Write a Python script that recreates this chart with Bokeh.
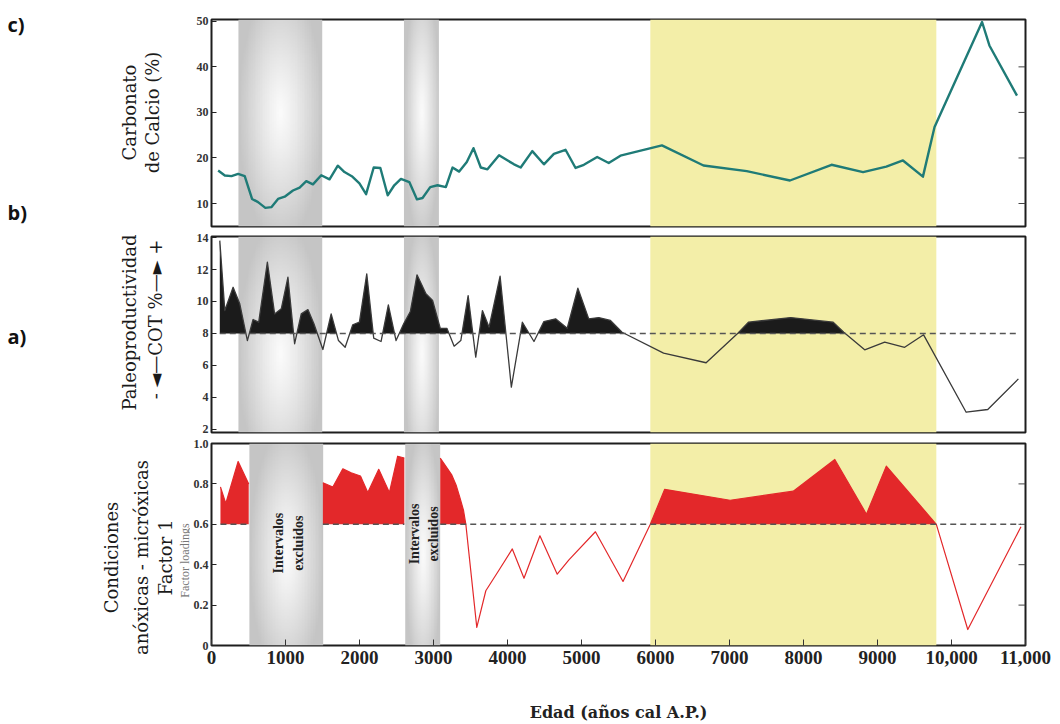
import numpy as np
from bokeh.plotting import figure
from bokeh.layouts import column, row
from bokeh.models import Label, FixedTicker, Range1d
from bokeh.embed import file_html
from bokeh.resources import INLINE
from bokeh.core.properties import value

# ---------------- data ----------------
# c) Carbonato de Calcio (%)
carb_age = [90, 180, 270, 360, 449, 548, 629, 728, 809, 899, 989, 1101, 1191, 1281, 1371,
            1483, 1595, 1707, 1797, 1896, 1999, 2089, 2192, 2282, 2381, 2470, 2560, 2673,
            2777, 2852, 2956, 3055, 3167, 3257, 3347, 3450, 3540, 3639, 3729, 3886, 3975,
            4088, 4178, 4335, 4492, 4627, 4784, 4920, 5032, 5212, 5368, 5526, 6087, 6649,
            7233, 7817, 8379, 8805, 9119, 9344, 9614, 9771, 10413, 10512, 10885]
carb_pct = [17.25, 16.15, 16.0, 16.5, 16.0, 11.0, 10.3, 9.05, 9.2, 11.0, 11.5, 12.85, 13.5,
            14.9, 14.2, 16.2, 15.3, 18.3, 16.9, 16.0, 14.4, 12.05, 17.9, 17.8, 11.8, 14.0,
            15.4, 14.7, 10.9, 11.2, 13.6, 14.0, 13.6, 17.9, 17.0, 19.1, 22.15, 17.9, 17.5,
            20.6, 19.7, 18.6, 17.9, 21.5, 18.6, 20.9, 21.8, 17.8, 18.5, 20.2, 18.9, 20.5,
            22.75, 18.35, 17.1, 15.05, 18.5, 16.9, 18.1, 19.45, 15.9, 26.8, 49.85, 44.7, 33.7]

# b) Paleoproductividad (COT %)
cot_age = [112, 180, 292, 382, 485, 562, 638, 755, 853, 943, 1033, 1123, 1213, 1303, 1384,
           1505, 1617, 1716, 1806, 1909, 1999, 2098, 2192, 2291, 2390, 2494, 2597, 2687,
           2777, 2898, 2988, 3091, 3181, 3279, 3369, 3468, 3571, 3661, 3751, 3900, 4052,
           4201, 4358, 4492, 4650, 4807, 4951, 5098, 5234, 5391, 5548, 6109, 6684, 7120,
           7256, 7826, 8401, 8544, 8827, 9097, 9367, 9623, 10198, 10490, 10904]
cot_pct = [13.81, 9.43, 10.89, 9.85, 7.55, 8.87, 8.70, 12.46, 9.22, 9.54, 11.52, 7.35, 9.22,
           9.49, 8.60, 6.99, 9.22, 7.55, 7.13, 8.54, 8.70, 11.73, 7.70, 7.49, 9.79, 7.55,
           8.60, 9.37, 11.67, 10.48, 10.06, 8.32, 8.32, 7.20, 7.55, 10.37, 6.51, 9.43, 8.39,
           11.58, 4.63, 8.70, 7.49, 8.74, 8.91, 8.32, 10.83, 8.91, 8.99, 8.81, 8.07, 6.76,
           6.16, 8.04, 8.70, 8.99, 8.70, 8.07, 6.97, 7.45, 7.13, 7.91, 3.06, 3.23, 5.15]
cot_threshold = 8

# a) Factor 1 loadings (three segments, excluded intervals between them)
f1_age_1 = [121, 193, 360, 503]
f1_val_1 = [0.785, 0.703, 0.911, 0.80]
f1_age_2 = [1505, 1640, 1775, 1887, 2013, 2112, 2260, 2404, 2516, 2606]
f1_val_2 = [0.806, 0.785, 0.875, 0.855, 0.839, 0.757, 0.872, 0.757, 0.937, 0.928]
f1_age_3 = [3091, 3244, 3305, 3360, 3405, 3437, 3585, 3707, 3886, 4065, 4223, 4438, 4672,
            4830, 5188, 5561, 5930, 6123, 7008, 7862, 8423, 8851, 9119, 9795, 10220, 10939]
f1_val_3 = [0.928, 0.846, 0.795, 0.728, 0.67, 0.60, 0.09, 0.271, 0.374, 0.478, 0.333, 0.543,
            0.353, 0.424, 0.563, 0.317, 0.60, 0.773, 0.719, 0.764, 0.921, 0.65, 0.888, 0.60,
            0.079, 0.588]
f1_threshold = 0.6

excluded_upper = [(364, 1496), (2601, 3073)]
excluded_lower = [(512, 1509), (2618, 3090)]
excluded_label = "Intervalos\nexcluidos"
excluded_label_pos = [(1038, 0.507), (2870, 0.552)]
yellow_band = (5930, 9795)

x_ticks = [0, 1000, 2000, 3000, 4000, 5000, 6000, 7000, 8000, 9000, 10000, 11000]
x_tick_labels = ["0", "1000", "2000", "3000", "4000", "5000", "6000", "7000", "8000",
                 "9000", "10,000", "11,000"]
carb_ticks = [10, 20, 30, 40, 50]
cot_ticks = [2, 4, 6, 8, 10, 12, 14]
f1_ticks = [0, 0.2, 0.4, 0.6, 0.8, 1.0]
f1_tick_labels = ["0", "0.2", "0.4", "0.6", "0.8", "1.0"]

# ---------------- styles ----------------
TEAL = "#1f7b77"
RED = "#e3282a"
YELLOW = "#f3eea8"
SERIF = "DejaVu Serif"
TSERIF = "Liberation Serif"
SIDE_W = 190          # width of the left annotation strip
AXIS_BORDER = 20      # left border of each panel (tick labels)


def band_image(vc):
    H, W = 140, 48
    u = (np.arange(W) + 0.5) / W
    v = (np.arange(H) + 0.5) / H
    U, V = np.meshgrid(u, v)
    dx = np.abs(U - 0.5) / 0.5
    dy = np.abs(V - vc) / max(vc, 1 - vc)
    r = np.clip(np.sqrt(dx ** 2 + 0.75 * dy ** 2), 0, 1)
    g = (251 - 54 * r ** 1.2).astype(np.uint32)
    return (np.uint32(255) << 24) | (g << 16) | (g << 8) | g


def fill_above(xs, ys, thr):
    fx, fy = [], []
    for i in range(len(xs)):
        if i > 0:
            y0, y1 = ys[i - 1], ys[i]
            if (y0 - thr) * (y1 - thr) < 0:
                t = (thr - y0) / (y1 - y0)
                fx.append(xs[i - 1] + t * (xs[i] - xs[i - 1]))
                fy.append(thr)
        fx.append(xs[i])
        fy.append(max(ys[i], thr))
    return fx, fy


def make_fig(h, yr, btop, bbottom, with_x):
    p = figure(width=1060 - SIDE_W, height=h, x_range=Range1d(0, 11000),
               y_range=Range1d(*yr), output_backend="svg", toolbar_location=None,
               x_axis_location="below" if with_x else None,
               min_border_left=AXIS_BORDER, min_border_right=35,
               min_border_top=btop, min_border_bottom=bbottom)
    p.grid.visible = False
    p.outline_line_color = "#1e1e1e"
    p.outline_line_width = 2
    p.background_fill_color = "white"
    p.border_fill_color = "white"
    ya = p.yaxis[0]
    ya.axis_line_color = None
    ya.major_tick_in = 5
    ya.major_tick_out = 0
    ya.minor_tick_line_color = None
    ya.major_tick_line_color = "#222"
    ya.major_label_standoff = 3
    ya.major_label_text_font = TSERIF
    ya.major_label_text_font_style = "bold"
    ya.major_label_text_font_size = "12px"
    ya.major_label_text_color = "#333"
    return p


def right_ticks(p, ticks):
    # short inward tick marks on the right frame edge
    p.ray(x=[11000] * len(ticks), y=ticks, length=7, length_units="screen",
          angle=np.pi, line_color="#444", line_width=1)


def add_bands(p, bands, yr, vc):
    for (a, b) in bands:
        p.image_rgba(image=[band_image(vc)], x=a, y=yr[0], dw=b - a, dh=yr[1] - yr[0])
    p.quad(left=yellow_band[0], right=yellow_band[1], bottom=yr[0], top=yr[1],
           fill_color=YELLOW, line_color=None)


# ---------------- left annotation strip (page pixel coordinates) ----------------
side = figure(width=SIDE_W, height=724, x_range=Range1d(0, SIDE_W), y_range=Range1d(724, 0),
              output_backend="svg", toolbar_location=None, x_axis_location=None,
              y_axis_location=None, min_border=0)
side.grid.visible = False
side.outline_line_color = None
side.background_fill_color = "white"
side.border_fill_color = "white"


def vlabel(text, x, y, size, font=SERIF, color="#1a1a1a", style="normal"):
    side.add_layout(Label(x=x, y=y, text=text, angle=np.pi / 2, text_align="center",
                          text_baseline="middle", text_font=font, text_font_size=size,
                          text_color=color, text_font_style=style))


def letter(text, y):
    side.add_layout(Label(x=7, y=y, text=text, text_align="left", text_baseline="middle",
                          text_font="Open Sans", text_font_size="20px",
                          text_font_style="bold", text_color="#111"))


letter("c)", 24)
letter("b)", 212)
letter("a)", 336)
vlabel("Carbonato", 129, 112, "18px")
vlabel("de Calcio (%)", 152, 112, "18px")
vlabel("Paleoproductividad", 129, 322, "18px")
vlabel("- \u25c4\u2014COT %\u2014\u25ba +", 155, 319, "18px")
vlabel("Condiciones", 111, 557, "18px")
vlabel("anóxicas - micróxicas", 141, 557, "18px")
vlabel("Factor 1", 165, 557, "18px")
vlabel("Factor loadings", 184, 560, "12px", font=TSERIF, color="#777")

# ---------------- c) Carbonato ----------------
yr1 = (4.95, 50.4)
p1 = make_fig(231, yr1, 19, 5, False)
p1.yaxis[0].ticker = FixedTicker(ticks=carb_ticks)
add_bands(p1, excluded_upper, yr1, 0.55)
p1.line(carb_age, carb_pct, line_color=TEAL, line_width=2.4, line_join="round")
right_ticks(p1, carb_ticks[:-1])

# ---------------- b) COT ----------------
yr2 = (1.79, 14.07)
p2 = make_fig(206, yr2, 5, 5, False)
p2.yaxis[0].ticker = FixedTicker(ticks=cot_ticks)
add_bands(p2, excluded_upper, yr2, 0.4)
fx, fy = fill_above(cot_age, cot_pct, cot_threshold)
p2.varea(x=fx, y1=cot_threshold, y2=fy, fill_color="#1b1b1b")
p2.line(cot_age, cot_pct, line_color="#3a3a3a", line_width=1.3, line_join="round")
p2.line([cot_age[0], cot_age[-1]], [cot_threshold, cot_threshold], line_color="#555",
        line_width=1.5, line_dash="6 4")

# ---------------- a) Factor 1 ----------------
yr3 = (0, 1.0)
p3 = make_fig(287, yr3, 6, 77, True)
p3.yaxis[0].ticker = FixedTicker(ticks=f1_ticks)
p3.yaxis[0].major_label_overrides = {t: l for t, l in zip(f1_ticks, f1_tick_labels)}
add_bands(p3, excluded_lower, yr3, 0.45)
for xs, ys in [(f1_age_1, f1_val_1), (f1_age_2, f1_val_2), (f1_age_3, f1_val_3)]:
    fx, fy = fill_above(xs, ys, f1_threshold)
    p3.varea(x=fx, y1=f1_threshold, y2=fy, fill_color=RED)
    p3.line(xs, ys, line_color=RED, line_width=1.2, line_join="round")
    p3.line([xs[0], xs[-1]], [f1_threshold, f1_threshold], line_color="#555",
            line_width=1.5, line_dash="6 4")
p3.text(x=[q[0] for q in excluded_label_pos], y=[q[1] for q in excluded_label_pos],
        text=[excluded_label] * 2, angle=np.pi / 2, text_align="center",
        text_baseline="middle", text_font=value(TSERIF), text_font_style="bold",
        text_font_size="14px", text_color="#222", text_line_height=1.3)
right_ticks(p3, [0.2, 0.4, 0.6, 0.8])
xa = p3.xaxis[0]
xa.ticker = FixedTicker(ticks=x_ticks)
xa.major_label_overrides = {t: l for t, l in zip(x_ticks, x_tick_labels)}
xa.axis_line_color = None
xa.major_tick_in = 6
xa.major_tick_out = 0
xa.minor_tick_line_color = None
xa.major_tick_line_color = "#333"
xa.major_label_standoff = 5
xa.major_label_text_font = TSERIF
xa.major_label_text_font_style = "bold"
xa.major_label_text_font_size = "19px"
xa.major_label_text_color = "#222"
xa.axis_label = "Edad (años cal A.P.)"
xa.axis_label_text_font = SERIF
xa.axis_label_text_font_style = "bold"
xa.axis_label_text_font_size = "16px"
xa.axis_label_text_color = "#222"
xa.axis_label_standoff = 36

layout = row(side, column(p1, p2, p3, spacing=0), spacing=0)
open("out.html", "w").write(file_html(layout, INLINE))
